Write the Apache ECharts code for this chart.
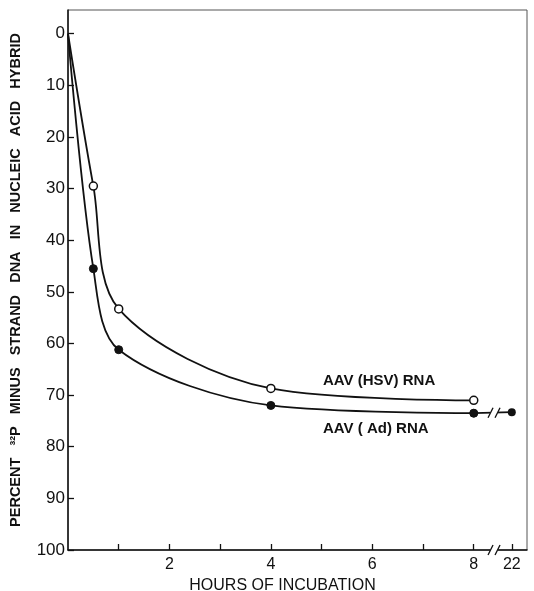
<!DOCTYPE html>
<html>
<head>
<meta charset="utf-8">
<script src="https://cdn.jsdelivr.net/npm/echarts@6/dist/echarts.min.js"></script>
<style>
  html, body { margin: 0; padding: 0; background: #fff; }
  #main { width: 534px; height: 591px; }
</style>
</head>
<body>
<div id="main"></div>
<script>
/* data */
var hours = [0, 0.5, 1, 4, 8];
var hsvVals = [0, 29.5, 53.3, 68.7, 71];   // AAV(HSV) RNA, open circles
var adVals = [0, 45.5, 61.2, 72, 73.5];    // AAV(Ad) RNA, filled circles
var lateHour = 22;                         // after the axis break
var adLate = 73.3;
var yTicks = [0, 10, 20, 30, 40, 50, 60, 70, 80, 90, 100];
var xTicks = [1, 2, 3, 4, 5, 6, 7, 8, 22];
var xLabels = [2, 4, 6, 8, 22];

/* the axis is broken between 8 and 22: 22 sits just after 8 */
var breakPos = 8.75;
function toAxis(h) { return h > 8 ? breakPos : h; }

function pairs(xs, ys) {
  var arr = [];
  for (var i = 0; i < xs.length; i++) {
    var item = { value: [toAxis(xs[i]), ys[i]] };
    if (xs[i] === 0) item.symbol = 'none';   // no marker at the origin
    arr.push(item);
  }
  return arr;
}

var ink = '#111';
var font = 'Liberation Sans';

var chart = echarts.init(document.getElementById('main'));

var option = {
  animation: false,
  backgroundColor: '#fff',
  grid: {
    left: 68, right: 7, top: 10, bottom: 41,
    outerBoundsMode: 'none',
    containLabel: false,
    show: true, borderColor: '#555', borderWidth: 1
  },
  xAxis: {
    type: 'value',
    min: 0, max: 9.05,
    position: 'bottom',
    name: 'HOURS OF INCUBATION',
    nameLocation: 'middle',
    nameGap: 15,
    nameTextStyle: { color: ink, fontFamily: font, fontSize: 16, padding: [0, 30, 10, 0] },
    splitLine: { show: false },
    axisLine: { onZero: false, lineStyle: { color: ink, width: 1.5 } },
    axisTick: {
      inside: true, length: 6, lineStyle: { color: ink, width: 1.3 },
      customValues: xTicks.map(toAxis)
    },
    axisLabel: {
      color: ink, fontFamily: font, fontSize: 16, margin: 7,
      customValues: xLabels.map(toAxis),
      formatter: function (v) { return v === breakPos ? String(lateHour) : String(v); }
    }
  },
  yAxis: {
    type: 'value',
    inverse: true,
    min: -4.6, max: 100,
    name: 'PERCENT   \u00b3\u00b2P   MINUS   STRAND   DNA   IN   NUCLEIC   ACID   HYBRID',
    nameLocation: 'middle',
    nameGap: 45,
    nameRotate: 90,
    nameTextStyle: { color: ink, fontFamily: font, fontSize: 14.5, fontWeight: 'bold' },
    splitLine: { show: false },
    axisLine: { onZero: false, lineStyle: { color: ink, width: 1.5 } },
    axisTick: {
      inside: true, length: 6, lineStyle: { color: ink, width: 1.3 },
      customValues: yTicks
    },
    axisLabel: {
      color: ink, fontFamily: font, fontSize: 17, margin: 3,
      customValues: yTicks
    }
  },
  series: [
    {
      name: 'AAV(HSV) RNA',
      type: 'line',
      smooth: 0.32,
      data: pairs(hours, hsvVals),
      symbol: 'circle',
      symbolSize: 8,
      lineStyle: { color: ink, width: 1.8 },
      itemStyle: { color: '#fff', borderColor: ink, borderWidth: 1.5 },
      z: 3
    },
    {
      name: 'AAV(Ad) RNA',
      type: 'line',
      smooth: 0.32,
      data: pairs(hours, adVals),
      symbol: 'circle',
      symbolSize: 8,
      lineStyle: { color: ink, width: 1.8 },
      itemStyle: { color: ink, borderColor: ink, borderWidth: 1 },
      z: 3
    },
    {
      name: 'AAV(Ad) RNA late',
      type: 'line',
      data: pairs([8, lateHour], [adVals[adVals.length - 1], adLate]),
      symbol: 'circle',
      symbolSize: 8,
      lineStyle: { color: ink, width: 1.8 },
      itemStyle: { color: ink },
      z: 3
    }
  ]
};

chart.setOption(option);

/* break marks and curve labels */
function breakMark(x, y) {
  return [
    { type: 'rect', shape: { x: x - 4, y: y - 3, width: 8, height: 6 }, style: { fill: '#fff' }, z: 10 },
    { type: 'line', shape: { x1: x - 6, y1: y + 5, x2: x - 1, y2: y - 5 }, style: { stroke: ink, lineWidth: 1.3 }, z: 11 },
    { type: 'line', shape: { x1: x + 1, y1: y + 5, x2: x + 6, y2: y - 5 }, style: { stroke: ink, lineWidth: 1.3 }, z: 11 }
  ];
}
var bx = chart.convertToPixel({ gridIndex: 0 }, [8.4, 100]);
var by = chart.convertToPixel({ gridIndex: 0 }, [8.4, (adVals[adVals.length - 1] + adLate) / 2]);
var gfx = breakMark(bx[0], bx[1]).concat(breakMark(by[0], by[1]));
gfx.push({
  type: 'text', left: 323, top: 373, z: 12,
  style: { text: 'AAV (HSV) RNA', fill: ink, font: 'bold 15px "Liberation Sans"' }
});
gfx.push({
  type: 'text', left: 323, top: 421, z: 12,
  style: { text: 'AAV ( Ad) RNA', fill: ink, font: 'bold 15px "Liberation Sans"' }
});
chart.setOption({ graphic: gfx });
</script>
</body>
</html>
